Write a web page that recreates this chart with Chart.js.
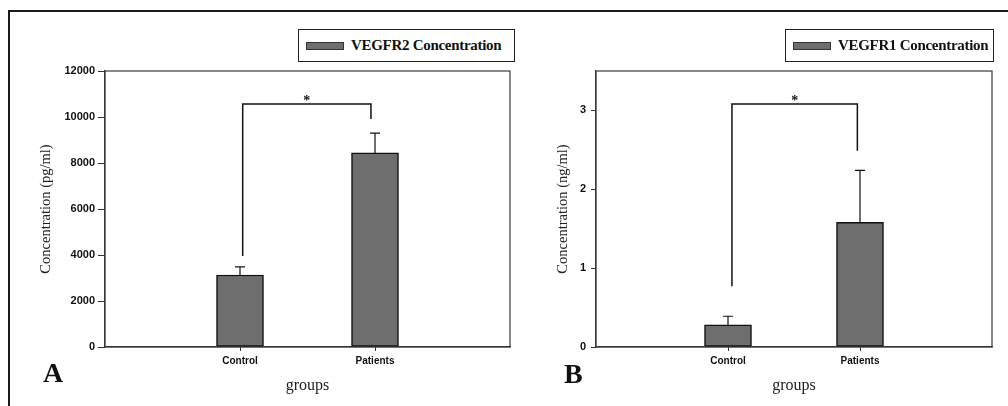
<!DOCTYPE html>
<html>
<head>
<meta charset="utf-8">
<script src="https://cdn.jsdelivr.net/npm/chart.js@4"></script>
<style>
    body { margin: 0; background: #fff; width: 1008px; height: 406px; overflow: hidden; position: relative; }
    canvas { position: absolute; top: 0; }
    #frame { position: absolute; left: 8px; top: 10px; width: 1010px; height: 410px; border-left: 2px solid #1a1a1a; border-top: 2px solid #1a1a1a; }
    .legend { position: absolute; top: 29px; height: 31px; border: 1px solid #222; background: #fff;
        font: bold 15px "Liberation Serif", serif; color: #111; box-sizing: content-box; }
    .legend .sw { position: absolute; left: 7px; top: 12px; width: 36px; height: 6px; background: #6e6e6e; border: 1px solid #333; }
    .legend span { position: absolute; left: 52px; top: 7px; white-space: nowrap; letter-spacing: -0.3px; }
</style>
</head>
<body>
<div id="frame"></div>
<canvas id="chartA" width="520" height="406" style="left:0"></canvas>
<canvas id="chartB" width="488" height="406" style="left:520px"></canvas>
<div class="legend" style="left:298px; width:215px"><div class="sw"></div><span>VEGFR2 Concentration</span></div>
<div class="legend" style="left:785px; width:207px"><div class="sw"></div><span>VEGFR1 Concentration</span></div>

<script>
// Kategorien (leere Einträge links/rechts als Abstand)
const groups = ['', 'Control', 'Patients', ''];

// Panel A: VEGFR2 (pg/ml)
const vegfr2Mean = [null, 3130, 8440, null];
const vegfr2ErrTop = [null, 3480, 9300, null];
const vegfr2Bracket = { x: [1.02, 1.97], y: 10560, bottoms: [3960, 9910] };

// Panel B: VEGFR1 (ng/ml)
const vegfr1Mean = [null, 0.28, 1.58, null];
const vegfr1ErrTop = [null, 0.39, 2.24, null];
const vegfr1Bracket = { x: [1.03, 1.98], y: 3.08, bottoms: [0.77, 2.49] };

const barColor = '#6e6e6e';

// Fehlerbalken, Signifikanzklammer, Rahmen und Panel-Buchstabe
const extrasPlugin = {
    id: 'extras',
    afterDatasetsDraw(chart, args, opts) {
        const ctx = chart.ctx;
        const xs = chart.scales.x, ys = chart.scales.y;
        const area = chart.chartArea;
        ctx.save();
        // Rahmen um den Plotbereich
        ctx.strokeStyle = '#3a3a3a';
        ctx.lineWidth = 1.2;
        ctx.strokeRect(area.left, area.top, area.right - area.left, area.bottom - area.top);

        // Fehlerbalken (nur nach oben)
        ctx.strokeStyle = '#111';
        ctx.lineWidth = 1.2;
        opts.errTop.forEach((top, i) => {
            if (top == null) return;
            const x = xs.getPixelForValue(i);
            const y0 = ys.getPixelForValue(opts.mean[i]);
            const y1 = ys.getPixelForValue(top);
            ctx.beginPath();
            ctx.moveTo(x, y0);
            ctx.lineTo(x, y1);
            ctx.moveTo(x - 5, y1);
            ctx.lineTo(x + 5, y1);
            ctx.stroke();
        });

        // Klammer mit Stern
        const b = opts.bracket;
        const xl = xs.getPixelForValue(b.x[0]);
        const xr = xs.getPixelForValue(b.x[1]);
        const yb = ys.getPixelForValue(b.y);
        ctx.lineWidth = 1.5;
        ctx.beginPath();
        ctx.moveTo(xl, ys.getPixelForValue(b.bottoms[0]));
        ctx.lineTo(xl, yb);
        ctx.lineTo(xr, yb);
        ctx.lineTo(xr, ys.getPixelForValue(b.bottoms[1]));
        ctx.stroke();
        ctx.fillStyle = '#111';
        ctx.font = 'bold 14px "Liberation Serif", serif';
        ctx.textAlign = 'center';
        ctx.textBaseline = 'alphabetic';
        ctx.fillText('*', (xl + xr) / 2, yb + 1);

        // Panel-Buchstabe
        ctx.font = 'bold 28px "Liberation Serif", serif';
        ctx.textAlign = 'left';
        ctx.fillText(opts.letter, opts.letterX, opts.letterY);
        ctx.restore();
    }
};

function makeChart(canvasId, setup) {
    const config = {
        type: 'bar',
        data: {
            labels: groups,
            datasets: [{
                label: setup.label,
                data: setup.mean,
                backgroundColor: barColor,
                borderColor: '#111',
                borderWidth: 1.5,
                borderSkipped: false,
                barThickness: 47
            }]
        },
        options: {
            responsive: false,
            animation: false,
            devicePixelRatio: 1,
            layout: { padding: { left: 0, top: 71, right: setup.padRight, bottom: 0 } },
            plugins: {
                legend: { display: false },
                tooltip: { enabled: false },
                extras: {
                    mean: setup.mean, errTop: setup.errTop, bracket: setup.bracket,
                    letter: setup.letter, letterX: setup.letterX, letterY: setup.letterY
                }
            },
            scales: {
                x: {
                    offset: false,
                    grid: {
                        offset: false,
                        drawOnChartArea: false,
                        tickLength: 4,
                        tickColor: c => (c.index === 1 || c.index === 2) ? '#333' : 'rgba(0,0,0,0)'
                    },
                    border: { color: '#333', width: 1.2 },
                    ticks: {
                        padding: 4, maxRotation: 0, autoSkip: false, color: '#111',
                        font: { family: '"Liberation Sans", Arial, sans-serif', size: 10, weight: 'bold' }
                    },
                    title: {
                        display: true, text: 'groups', color: '#222',
                        font: { family: '"Liberation Serif", serif', size: 16 },
                        padding: { top: 0, bottom: 11 }
                    },
                    afterFit: s => { s.height = 406 - 347; }
                },
                y: {
                    min: 0, max: setup.max,
                    ticks: {
                        stepSize: setup.step, padding: setup.tickPad, color: '#111',
                        font: { family: '"Liberation Sans", Arial, sans-serif', size: 11, weight: 'bold' },
                        callback: v => String(v)
                    },
                    afterBuildTicks: s => { s.ticks = s.ticks.filter(t => t.value % setup.step === 0); },
                    grid: { drawOnChartArea: false, tickLength: setup.tickLen, tickColor: '#333' },
                    border: { color: '#333', width: 1.2 },
                    title: {
                        display: true, text: setup.yTitle, color: '#222',
                        font: { family: '"Liberation Serif", serif', size: 14.5 },
                        padding: { top: setup.titlePad, bottom: 0 }
                    },
                    afterFit: s => { s.width = setup.axisWidth; }
                }
            }
        },
        plugins: [extrasPlugin]
    };
    return new Chart(document.getElementById(canvasId), config);
}

makeChart('chartA', {
    label: 'VEGFR2 Concentration', mean: vegfr2Mean, errTop: vegfr2ErrTop, bracket: vegfr2Bracket,
    max: 12000, step: 2000, yTitle: 'Concentration (pg/ml)',
    axisWidth: 105, padRight: 10, titlePad: 37, tickLen: 7, tickPad: 3,
    letter: 'A', letterX: 43, letterY: 382
});

makeChart('chartB', {
    label: 'VEGFR1 Concentration', mean: vegfr1Mean, errTop: vegfr1ErrTop, bracket: vegfr1Bracket,
    max: 3.5, step: 1, yTitle: 'Concentration (ng/ml)',
    axisWidth: 76, padRight: 16, titlePad: 34, tickLen: 5, tickPad: 5,
    letter: 'B', letterX: 44, letterY: 383
});
</script>
</body>
</html>
